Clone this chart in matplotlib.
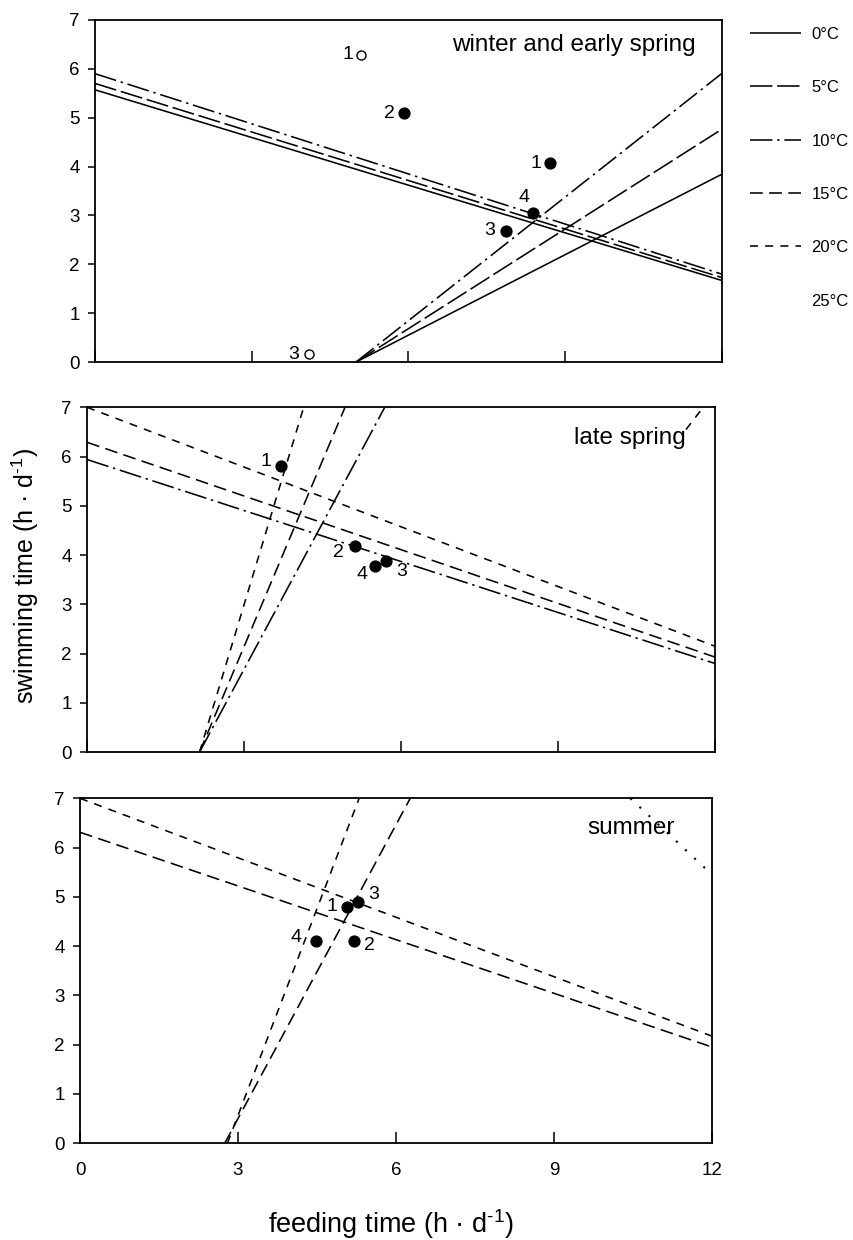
import matplotlib
matplotlib.use("Agg")
import matplotlib.pyplot as plt
from matplotlib.lines import Line2D

plt.rcParams['font.family'] = ['Liberation Sans', 'DejaVu Sans']
plt.rcParams['mathtext.fontset'] = 'custom'
plt.rcParams['mathtext.rm'] = 'Liberation Sans'

# temperatures and their line styles
temps = ['0°C', '5°C', '10°C', '15°C', '20°C', '25°C']
dash = {
    '0°C': (0, ()),
    '5°C': (0, (14, 3)),
    '10°C': (0, (14, 3, 1.5, 3)),
    '15°C': (0, (8, 4)),
    '20°C': (0, (5, 4.5)),
    '25°C': (0, (1, 5)),
}

# winter and early spring
winter_fall_x = [0, 12]
winter_fall = {'0°C': [5.57, 1.67], '5°C': [5.70, 1.73], '10°C': [5.90, 1.80]}
winter_rise_x = [5.0, 12]
winter_rise = {'0°C': [0, 3.84], '5°C': [0, 4.76], '10°C': [0, 5.90]}
winter_ids = ['1', '2', '1', '4', '3', '3']
winter_px = [5.10, 5.92, 8.72, 8.38, 7.87, 4.11]
winter_py = [6.29, 5.09, 4.07, 3.05, 2.69, 0.16]
winter_filled = [False, True, True, True, True, False]

# late spring
spring_fall_x = [0, 12]
spring_fall = {'10°C': [5.94, 1.80], '15°C': [6.29, 1.93], '20°C': [7.00, 2.15]}
spring_rise_y = [0, 7]
spring_rise = {'10°C': [2.15, 5.69], '15°C': [2.15, 4.93], '20°C': [2.15, 4.14]}
spring_extra_x = [11.45, 11.72]
spring_extra_y = [6.55, 6.92]
spring_ids = ['1', '2', '4', '3']
spring_px = [3.71, 5.12, 5.50, 5.71]
spring_py = [5.80, 4.18, 3.77, 3.87]

# summer
summer_fall_x = [0, 12]
summer_fall = {'15°C': [6.31, 1.95], '20°C': [7.00, 2.17]}
summer_rise_y = [0, 7]
summer_rise = {'15°C': [2.75, 6.27], '20°C': [2.80, 5.30]}
summer_hot_x = [10.45, 12]
summer_hot_y = [7.0, 5.45]
summer_ids = ['1', '3', '4', '2']
summer_px = [5.07, 5.28, 4.49, 5.21]
summer_py = [4.80, 4.90, 4.10, 4.10]

# label offsets in pixels (style only)
winter_off = [(-13, 0), (-15, 0), (-14, 0), (-9, 15), (-16, 0), (-16, 0)]
spring_off = [(-15, 5), (-16, -6), (-13, -8), (16, -10)]
summer_off = [(-15, 0), (16, 7), (-20, 4), (15, -4)]

fig = plt.figure(figsize=(8.54, 12.4), dpi=100)
ax1 = fig.add_axes([0.111, 0.708, 0.734, 0.276])
ax2 = fig.add_axes([0.102, 0.3935, 0.735, 0.278])
ax3 = fig.add_axes([0.0937, 0.0782, 0.740, 0.278])

LW = 1.15
SUP = r'$^{\mathregular{‐1}}$'


def style(ax, show_x):
    ax.set_xlim(0, 12)
    ax.set_ylim(0, 7)
    ax.set_xticks([0, 3, 6, 9, 12])
    ax.set_yticks(range(8))
    ax.tick_params(axis='x', direction='in', length=8, width=1.1, labelsize=13.5,
                   pad=14, labelbottom=show_x)
    ax.tick_params(axis='y', direction='out', length=5, width=1.1, labelsize=13.5, pad=6)
    for s in ax.spines.values():
        s.set_linewidth(1.3)


def points(ax, ids, px, py, offs, filled=None):
    if filled is None:
        filled = [True] * len(ids)
    for i in range(len(ids)):
        if filled[i]:
            ax.plot(px[i], py[i], 'o', color='black', ms=7.8, zorder=5)
        else:
            ax.plot(px[i], py[i], 'o', mfc='white', mec='black', mew=1.0, ms=6.5, zorder=5)
        ax.annotate(ids[i], (px[i], py[i]), xytext=offs[i], textcoords='offset pixels',
                    ha='center', va='center', fontsize=14)


# top panel
for t, ys in winter_fall.items():
    ax1.plot(winter_fall_x, ys, color='black', lw=LW, linestyle=dash[t])
for t, ys in winter_rise.items():
    ax1.plot(winter_rise_x, ys, color='black', lw=LW, linestyle=dash[t])
points(ax1, winter_ids, winter_px, winter_py, winter_off, winter_filled)
ax1.text(11.5, 6.48, 'winter and early spring', ha='right', va='center', fontsize=17.5)
style(ax1, False)

# middle panel
for t, ys in spring_fall.items():
    ax2.plot(spring_fall_x, ys, color='black', lw=LW, linestyle=dash[t])
for t, xs in spring_rise.items():
    ax2.plot(xs, spring_rise_y, color='black', lw=LW, linestyle=dash[t])
ax2.plot(spring_extra_x, spring_extra_y, color='black', lw=LW, linestyle=dash['20°C'])
points(ax2, spring_ids, spring_px, spring_py, spring_off)
ax2.text(11.45, 6.38, 'late spring', ha='right', va='center', fontsize=17.5)
style(ax2, False)

# bottom panel
for t, ys in summer_fall.items():
    ax3.plot(summer_fall_x, ys, color='black', lw=LW, linestyle=dash[t])
for t, xs in summer_rise.items():
    ax3.plot(xs, summer_rise_y, color='black', lw=LW, linestyle=dash[t])
ax3.plot(summer_hot_x, summer_hot_y, color='black', lw=1.5, linestyle=dash['25°C'])
points(ax3, summer_ids, summer_px, summer_py, summer_off)
ax3.text(11.3, 6.4, 'summer', ha='right', va='center', fontsize=17.5)
style(ax3, True)

# legend on the right (25°C has no visible line in the original)
handles = []
for t in temps:
    if t == '25°C':
        handles.append(Line2D([], [], color='none'))
    else:
        handles.append(Line2D([], [], color='black', lw=LW, linestyle=dash[t]))
fig.legend(handles, temps, loc='upper left', bbox_to_anchor=(0.868, 0.985),
           frameon=False, fontsize=12, handlelength=3.1, handletextpad=0.6,
           labelspacing=2.3, borderpad=0)

fig.text(25 / 854, 1 - 576 / 1240, 'swimming time (h · d' + SUP + ')', rotation=90,
         ha='center', va='center', fontsize=18)
fig.text(391 / 854, 1 - 1224 / 1240, 'feeding time (h · d' + SUP + ')',
         ha='center', va='center', fontsize=19.5)

fig.savefig('out.png', dpi=100, facecolor='white')
